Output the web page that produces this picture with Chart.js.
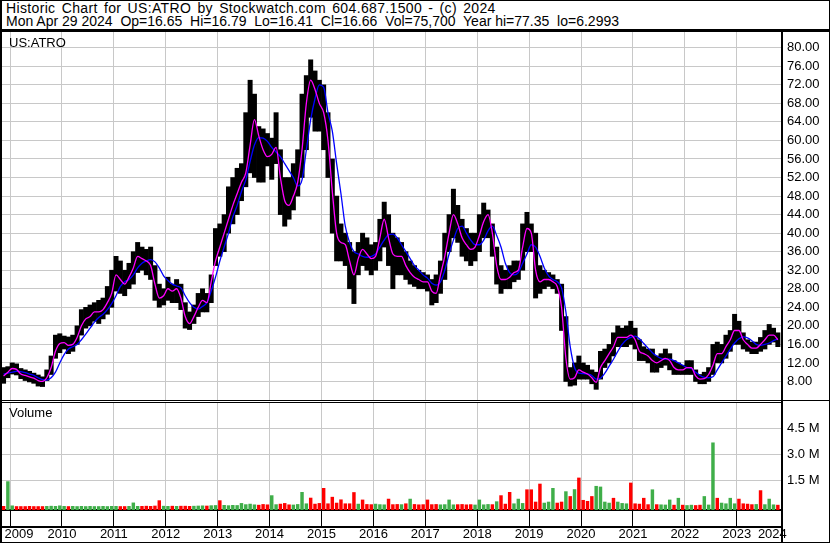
<!DOCTYPE html>
<html lang="en">
<head>
  <meta charset="UTF-8" />
  <title>Historic Chart for US:ATRO</title>
  <script src="https://cdn.jsdelivr.net/npm/chart.js"></script>
  <style>
    * { box-sizing: border-box; }
    body { margin: 0; background: #fff; color: #000; font-family: 'Liberation Sans', Arial, sans-serif; font-size: 13px; }
    #frame { position: relative; width: 830px; height: 543px; overflow: hidden; background: #fff; }
    .txt { position: absolute; white-space: pre; line-height: 13px; }
    .head { font-size: 14px; }
    .wide { word-spacing: 2px; letter-spacing: 0.35px; }
    .ln { position: absolute; background: #000; }
    canvas { position: absolute; left: 0; }
  </style>
</head>
<body>
  <div id="frame">
    <div class="txt head wide" style="left:6px;top:2px">Historic Chart for US:ATRO by Stockwatch.com 604.687.1500 - (c) 2024</div>
    <div class="txt head" style="left:6px;top:15px">Mon Apr 29 2024  Op=16.65  Hi=16.79  Lo=16.41  Cl=16.66  Vol=75,700  Year hi=77.35  lo=6.2993</div>

    <canvas id="priceChart" width="830" height="368" style="top:32px"></canvas>
    <canvas id="volChart" width="830" height="141" style="top:401px"></canvas>

    <div class="txt" style="left:9px;top:36px">US:ATRO</div>
    <div class="txt" style="left:9px;top:406px">Volume</div>

    <!-- frame lines -->
    <div class="ln" style="left:0;top:0;width:830px;height:1px"></div>
    <div class="ln" style="left:0;top:0;width:2px;height:543px"></div>
    <div class="ln" style="left:829px;top:0;width:1px;height:543px"></div>
    <div class="ln" style="left:0;top:542px;width:830px;height:1px"></div>
    <div class="ln" style="left:0;top:29px;width:830px;height:3px"></div>
    <div class="ln" style="left:0;top:400px;width:830px;height:1px"></div>
    <div class="ln" style="left:2px;top:402px;width:780px;height:1px"></div>
    <div class="ln" style="left:781px;top:32px;width:2px;height:511px"></div>
  </div>

  <script>
    // monthly bars, May 2009 .. Apr 2024 (one row per year)
    const firstYear = 2009, firstMonth = 5;
    const yearLabels = ['2009', '2010', '2011', '2012', '2013', '2014', '2015', '2016',
                        '2017', '2018', '2019', '2020', '2021', '2022', '2023', '2024'];

    const hi = [
      [11.0, 11.2, 12.0, 11.8, 10.8, 10.5, 10.2, 9.8],
      [9.4, 9.0, 10.5, 13.5, 18.0, 18.3, 17.8, 17.6, 18.0, 20.0, 23.5, 24.0],
      [24.5, 25.0, 25.5, 26.0, 28.5, 32.0, 35.0, 34.0, 32.0, 33.5, 36.0, 38.0],
      [37.0, 36.5, 37.0, 33.0, 29.0, 28.0, 30.5, 29.0, 30.0, 29.0, 25.0, 23.0],
      [24.5, 27.0, 28.0, 27.0, 31.0, 41.0, 42.0, 44.0, 50.0, 52.0, 54.0, 55.0],
      [66.0, 73.0, 70.0, 63.0, 62.5, 61.5, 60.5, 66.0, 58.0, 52.0, 52.0, 55.0],
      [58.0, 70.0, 74.0, 77.4, 75.0, 73.0, 72.0, 66.0, 56.0, 48.0, 42.0, 40.0],
      [38.0, 36.0, 38.0, 40.0, 39.0, 37.5, 38.0, 43.0, 46.7, 44.0, 40.0, 39.0],
      [38.0, 36.0, 34.0, 33.0, 32.0, 31.5, 31.0, 30.0, 31.0, 34.0, 40.0, 44.0],
      [49.5, 46.0, 43.0, 41.0, 40.0, 40.0, 44.0, 46.5, 45.0, 42.0, 37.0, 33.0],
      [32.0, 33.0, 34.0, 34.0, 42.0, 44.5, 42.0, 40.0, 33.0, 32.0, 31.5, 31.0],
      [30.0, 29.0, 22.0, 11.0, 12.0, 13.5, 12.0, 11.5, 10.5, 10.0, 14.5, 15.0],
      [16.0, 18.5, 20.0, 19.5, 20.0, 21.0, 19.5, 17.0, 15.5, 15.0, 15.0, 13.5],
      [14.0, 15.0, 14.0, 12.5, 12.0, 11.5, 12.5, 12.5, 10.5, 9.5, 10.0, 11.0],
      [16.0, 16.5, 16.0, 18.0, 19.0, 22.5, 21.0, 18.5, 17.0, 16.5, 16.5, 17.5],
      [19.0, 20.3, 19.5, 18.5]
    ].flat();

    const lo = [
      [7.6, 8.8, 9.6, 9.4, 8.6, 8.2, 7.9, 7.6],
      [7.0, 6.9, 8.2, 9.5, 13.0, 14.2, 15.0, 14.0, 14.5, 16.0, 18.0, 19.5],
      [20.0, 21.0, 20.5, 21.5, 22.5, 24.0, 27.5, 27.0, 26.5, 28.0, 29.0, 31.5],
      [32.0, 31.0, 30.0, 25.5, 24.0, 24.5, 25.5, 25.0, 25.0, 23.5, 19.5, 19.2],
      [20.5, 22.0, 23.0, 23.0, 25.0, 33.0, 35.0, 36.0, 40.0, 42.0, 44.0, 47.0],
      [50.0, 53.0, 52.0, 51.0, 51.0, 54.5, 51.6, 55.0, 44.0, 41.5, 43.0, 45.0],
      [48.0, 52.0, 58.0, 65.0, 62.0, 62.0, 58.0, 52.0, 40.0, 34.0, 34.0, 33.0],
      [28.0, 24.8, 31.0, 33.0, 32.0, 31.0, 32.0, 34.0, 37.0, 33.0, 28.0, 31.0],
      [31.0, 30.0, 29.0, 28.5, 28.0, 28.0, 27.5, 24.5, 25.0, 27.0, 30.0, 36.0],
      [39.0, 38.0, 35.0, 34.0, 33.0, 34.0, 36.0, 39.0, 39.0, 35.0, 29.0, 27.0],
      [28.0, 28.0, 29.5, 30.0, 32.0, 36.0, 36.0, 26.0, 27.0, 28.0, 28.5, 28.0],
      [27.0, 19.0, 8.0, 7.0, 7.2, 8.5, 8.5, 8.5, 7.5, 6.3, 8.5, 11.0],
      [12.0, 13.5, 15.5, 15.5, 15.5, 16.0, 15.0, 12.5, 12.5, 12.0, 10.0, 10.0],
      [11.0, 11.5, 10.5, 9.5, 9.5, 9.5, 9.5, 9.5, 8.0, 7.5, 7.5, 8.0],
      [9.5, 12.0, 12.0, 13.0, 14.5, 16.0, 16.0, 15.0, 14.5, 14.0, 14.0, 14.5],
      [15.0, 16.0, 16.5, 15.5]
    ].flat();

    // short moving average (magenta)
    const maShort = [
      [9.2, 10.0, 10.8, 10.6, 9.6, 9.3, 9.0, 8.7],
      [8.2, 8.0, 8.8, 11.0, 14.5, 16.2, 16.4, 15.8, 16.0, 17.5, 20.0, 21.5],
      [22.0, 23.0, 23.0, 23.5, 25.0, 27.0, 31.0, 30.0, 29.0, 30.5, 32.5, 35.0],
      [34.5, 34.0, 33.0, 29.0, 26.0, 26.5, 28.0, 27.5, 28.0, 26.0, 22.0, 20.5],
      [22.0, 24.0, 25.5, 25.0, 29.5, 34.0, 37.0, 40.0, 43.0, 46.0, 48.5, 51.0],
      [53.0, 59.0, 64.5, 61.0, 58.0, 56.5, 57.0, 58.5, 52.0, 47.0, 46.0, 48.0],
      [51.0, 58.0, 68.0, 73.0, 71.0, 68.0, 66.0, 60.0, 49.0, 40.0, 38.0, 37.5],
      [34.0, 31.0, 34.5, 36.5, 35.5, 34.5, 35.0, 39.0, 43.0, 39.0, 35.5, 35.0],
      [35.0, 33.0, 31.5, 30.5, 30.0, 29.5, 29.5, 27.5, 27.0, 31.0, 35.0, 40.0],
      [44.0, 42.0, 39.0, 37.5, 36.5, 37.0, 39.5, 42.5, 44.0, 40.0, 33.0, 30.0],
      [30.0, 30.5, 31.5, 32.0, 37.0, 41.0, 40.0, 32.0, 29.5, 30.0, 30.0, 29.5],
      [28.5, 24.0, 13.0, 8.5, 8.8, 10.5, 10.0, 9.6, 8.8, 7.8, 11.0, 12.5],
      [14.0, 15.5, 17.5, 17.5, 17.5, 18.0, 17.0, 14.5, 14.0, 13.5, 12.5, 12.0],
      [12.5, 13.0, 12.5, 11.0, 10.5, 10.5, 11.0, 11.0, 9.2, 8.5, 8.6, 9.5],
      [11.5, 14.0, 14.0, 15.5, 17.0, 19.0, 19.0, 17.0, 16.0, 15.2, 15.2, 16.0],
      [17.0, 18.0, 18.0, 17.0]
    ].flat();

    // long moving average (blue)
    const maLong = [
      [9.6, 9.8, 10.0, 10.2, 10.1, 9.9, 9.6, 9.3],
      [8.8, 8.4, 8.3, 8.8, 10.0, 12.0, 13.8, 15.0, 15.5, 16.0, 17.0, 18.2],
      [19.5, 20.8, 21.8, 22.5, 23.5, 24.8, 26.5, 28.5, 29.5, 30.0, 31.0, 32.5],
      [33.5, 34.0, 34.3, 33.8, 32.5, 30.8, 29.8, 29.0, 28.6, 28.2, 26.5, 25.0],
      [24.0, 23.6, 24.2, 25.0, 27.5, 30.5, 34.0, 37.0, 40.0, 43.5, 46.0, 49.0],
      [51.5, 55.5, 59.0, 60.6, 60.5, 59.8, 58.5, 57.5, 56.5, 55.0, 53.5, 52.0],
      [50.2, 51.5, 58.0, 64.5, 69.0, 72.0, 71.5, 66.0, 62.0, 55.0, 48.5, 41.5],
      [38.0, 36.0, 35.5, 35.0, 34.8, 35.0, 35.5, 37.0, 38.5, 39.7, 39.8, 39.0],
      [37.5, 36.0, 34.5, 33.0, 32.0, 31.0, 30.3, 29.2, 28.8, 29.5, 32.0, 35.5],
      [38.5, 41.0, 41.5, 40.0, 38.5, 37.5, 37.5, 38.5, 40.5, 41.5, 39.5, 37.0],
      [33.5, 31.5, 31.0, 31.5, 33.5, 35.5, 37.5, 37.0, 35.0, 32.5, 30.8, 30.0],
      [29.5, 28.2, 23.0, 15.5, 11.0, 9.8, 9.7, 9.6, 9.3, 8.5, 8.7, 9.8],
      [11.3, 12.8, 14.5, 16.0, 17.0, 17.5, 17.8, 17.2, 16.2, 15.2, 14.2, 13.5],
      [13.0, 12.8, 12.8, 12.5, 12.0, 11.5, 11.0, 10.8, 10.0, 9.3, 8.9, 8.8],
      [9.0, 10.5, 12.0, 13.5, 15.0, 16.3, 17.2, 17.6, 17.4, 16.8, 16.0, 15.8],
      [16.0, 16.3, 16.8, 17.2]
    ].flat();

    // volume in millions, 1 = up (green), 0 = down (red)
    const vol = [
      [0.03, 1.46, 0.06, 0.02, 0.02, 0.02, 0.03, 0.02],
      [0.02, 0.02, 0.03, 0.04, 0.03, 0.06, 0.03, 0.02, 0.03, 0.02, 0.03, 0.02],
      [0.03, 0.02, 0.02, 0.03, 0.02, 0.03, 0.03, 0.02, 0.02, 0.03, 0.23, 0.03],
      [0.03, 0.04, 0.03, 0.05, 0.36, 0.04, 0.03, 0.04, 0.03, 0.04, 0.04, 0.03],
      [0.04, 0.05, 0.06, 0.05, 0.07, 0.08, 0.36, 0.09, 0.07, 0.09, 0.08, 0.20],
      [0.13, 0.16, 0.12, 0.10, 0.14, 0.12, 0.65, 0.13, 0.16, 0.20, 0.12, 0.11],
      [0.14, 0.84, 0.18, 0.51, 0.16, 0.20, 1.07, 0.18, 0.56, 0.22, 0.41, 0.18],
      [0.18, 0.83, 0.16, 0.40, 0.14, 0.13, 0.16, 0.13, 0.12, 0.45, 0.13, 0.14],
      [0.13, 0.18, 0.45, 0.14, 0.12, 0.13, 0.40, 0.13, 0.14, 0.12, 0.13, 0.40],
      [0.12, 0.13, 0.14, 0.12, 0.13, 0.11, 0.40, 0.12, 0.14, 0.13, 0.30, 0.65],
      [0.16, 0.84, 0.18, 0.45, 0.20, 0.99, 0.99, 0.28, 1.32, 0.22, 0.28, 1.07],
      [0.22, 0.28, 0.88, 0.60, 1.00, 1.67, 0.38, 0.32, 0.60, 1.19, 1.15, 0.28],
      [0.22, 0.50, 0.28, 0.20, 0.18, 1.38, 0.18, 0.16, 0.50, 0.13, 0.99, 0.13],
      [0.12, 0.11, 0.40, 0.10, 0.50, 0.10, 0.08, 0.10, 0.08, 0.10, 0.60, 0.11],
      [3.70, 0.50, 0.22, 0.18, 0.50, 0.18, 0.45, 0.18, 0.16, 0.13, 0.14, 0.94],
      [0.13, 0.45, 0.12, 0.10]
    ].flat();

    const volUp = [
      [0, 1, 1, 0, 0, 0, 0, 0],
      [0, 0, 1, 1, 1, 1, 1, 0, 1, 1, 1, 1],
      [1, 1, 1, 1, 1, 1, 1, 0, 0, 1, 1, 1],
      [0, 0, 0, 0, 0, 1, 1, 0, 1, 0, 0, 0],
      [1, 1, 1, 0, 1, 1, 0, 1, 1, 1, 1, 1],
      [1, 1, 1, 0, 0, 0, 1, 1, 0, 0, 0, 1],
      [1, 1, 1, 0, 0, 0, 0, 0, 0, 0, 0, 0],
      [0, 0, 1, 0, 0, 0, 1, 1, 1, 0, 0, 0],
      [1, 0, 1, 0, 0, 0, 0, 0, 0, 1, 1, 1],
      [1, 0, 0, 0, 0, 1, 1, 1, 1, 0, 1, 0],
      [0, 0, 1, 1, 1, 0, 0, 0, 0, 1, 1, 1],
      [0, 0, 1, 0, 1, 0, 0, 0, 0, 1, 1, 1],
      [1, 0, 1, 1, 1, 0, 0, 0, 0, 0, 1, 0],
      [1, 1, 1, 0, 1, 0, 1, 1, 0, 0, 1, 1],
      [1, 0, 1, 1, 1, 1, 0, 0, 0, 0, 1, 0],
      [1, 1, 1, 0]
    ].flat();

    const priceTicks = [8, 12, 16, 20, 24, 28, 32, 36, 40, 44, 48, 52, 56, 60, 64, 68, 72, 76, 80];
    const volTicks = [1.5, 3.0, 4.5];

    // layout of the time axis (month index units)
    const xMin = -0.36, xMax = 179.96;
    const yearBounds = yearLabels.slice(1).map(y => (+y - firstYear) * 12 - (firstMonth - 1) - 0.5);
    const edges = [xMin, ...yearBounds, xMax];
    const yearMids = yearLabels.map((_, k) => (edges[k] + edges[k + 1]) / 2);

    const grid = '#c8c8c8';
    const green = '#3fae49';
    const red = '#ff0000';

    Chart.defaults.font.family = "'Liberation Sans', Arial, sans-serif";
    Chart.defaults.font.size = 13;
    Chart.defaults.color = '#000';

    const setTicks = list => axis => { axis.ticks = list.map(v => ({ value: v })); };
    // fixed-width right axis, no extra padding so the plot fills the canvas
    const rightAxisFit = axis => { axis.width = 48; axis.paddingTop = 0; axis.paddingBottom = 0; };

    new Chart(document.getElementById('priceChart'), {
      type: 'bar',
      data: {
        datasets: [
          {
            type: 'line',
            data: maShort.map((v, i) => ({ x: i, y: v })),
            borderColor: '#ff00ff',
            borderWidth: 1.3,
            pointRadius: 0,
            cubicInterpolationMode: 'monotone',
            order: 1
          },
          {
            type: 'line',
            data: maLong.map((v, i) => ({ x: i, y: v })),
            borderColor: '#0000ff',
            borderWidth: 1.3,
            pointRadius: 0,
            cubicInterpolationMode: 'monotone',
            order: 2
          },
          {
            type: 'bar',
            data: hi.map((h, i) => ({ x: i, y: [lo[i], h] })),
            backgroundColor: '#000',
            barPercentage: 1,
            categoryPercentage: 1,
            order: 3
          }
        ]
      },
      options: {
        responsive: false,
        animation: false,
        devicePixelRatio: 1,
        layout: { padding: { left: 2, right: 0, top: 0, bottom: 0 } },
        plugins: { legend: { display: false }, tooltip: { enabled: false } },
        scales: {
          x: {
            type: 'linear', min: xMin, max: xMax, offset: false,
            afterBuildTicks: setTicks(yearBounds),
            afterFit: axis => { axis.height = 0; axis.paddingLeft = 0; axis.paddingRight = 0; },
            ticks: { display: false },
            grid: { color: grid, drawTicks: false },
            border: { display: true, color: '#000', width: 1 }
          },
          y: {
            position: 'right', min: 4, max: 83.4,
            afterBuildTicks: setTicks(priceTicks),
            afterFit: rightAxisFit,
            ticks: { padding: 5, callback: v => v.toFixed(2) },
            grid: { color: grid, drawTicks: false },
            border: { display: false }
          }
        }
      }
    });

    new Chart(document.getElementById('volChart'), {
      type: 'bar',
      data: {
        datasets: [{
          data: vol.map((v, i) => ({ x: i, y: v })),
          backgroundColor: volUp.map(u => u ? green : red),
          base: -0.2,
          barPercentage: 0.8,
          categoryPercentage: 1
        }]
      },
      options: {
        responsive: false,
        animation: false,
        devicePixelRatio: 1,
        layout: { padding: { left: 2, right: 0, top: 2, bottom: 0 } },
        plugins: { legend: { display: false }, tooltip: { enabled: false } },
        scales: {
          x: {
            type: 'linear', min: xMin, max: xMax, offset: false, weight: 5,
            afterBuildTicks: setTicks(yearMids),
            afterFit: axis => { axis.height = 15; axis.paddingLeft = 0; axis.paddingRight = 0; },
            ticks: { autoSkip: false, maxRotation: 0, padding: 0, callback: (v, i) => yearLabels[i] },
            grid: { display: false, drawTicks: false },
            border: { display: true, color: '#000', width: 2 }
          },
          xb: {
            type: 'linear', position: 'bottom', min: xMin, max: xMax, offset: false, weight: 1,
            afterBuildTicks: setTicks(yearBounds),
            afterFit: axis => { axis.height = 17; axis.paddingLeft = 0; axis.paddingRight = 0; },
            ticks: { display: false },
            grid: { color: grid, tickColor: '#000', tickLength: 17 },
            border: { display: true, color: '#000', width: 2 }
          },
          y: {
            position: 'right', min: -0.2, max: 5.98,
            afterBuildTicks: setTicks(volTicks),
            afterFit: rightAxisFit,
            ticks: { padding: 5, callback: v => v.toFixed(1) + ' M' },
            grid: { color: grid, drawTicks: false },
            border: { display: false }
          }
        }
      }
    });
  </script>
</body>
</html>
